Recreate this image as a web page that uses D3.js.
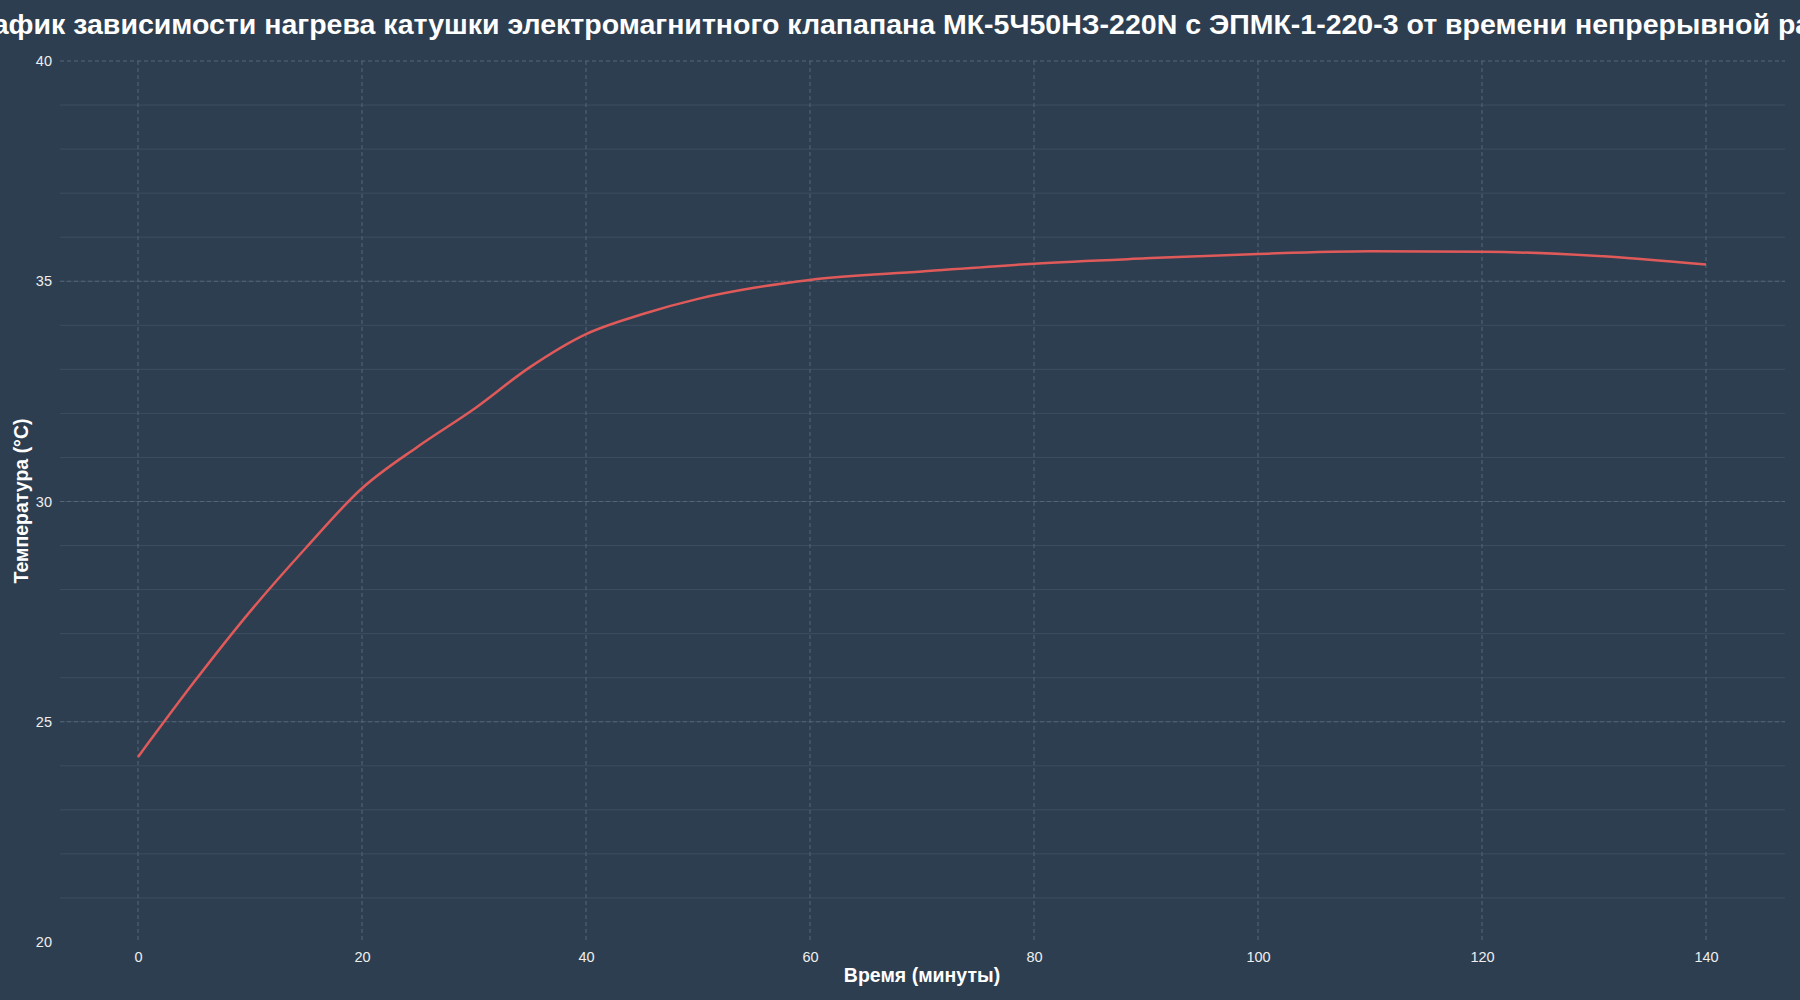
<!DOCTYPE html>
<html><head><meta charset="utf-8">
<script src="https://cdn.jsdelivr.net/npm/d3@7"></script>
<style>body{margin:0;background:#2d3e50;font-family:"Liberation Sans",Arial,sans-serif}</style>
</head><body><svg id="chart" width="1800" height="1000"></svg>
<script>
// time (minutes) vs coil temperature
var minutes = [0, 5, 10, 15, 20, 25, 30, 35, 40, 45, 50, 55, 60, 70, 80, 90, 100, 110, 120, 130, 140];
var temps = [24.2, 25.9, 27.5, 28.95, 30.3, 31.25, 32.1, 33.05, 33.8, 34.25, 34.6, 34.85, 35.03, 35.22, 35.4, 35.52, 35.62, 35.68, 35.67, 35.58, 35.38];
var xTicks = [0, 20, 40, 60, 80, 100, 120, 140];
var yTicks = [20, 25, 30, 35, 40];

var svg = d3.select('#chart');
var pLeft = 60, pRight = 1785, pTop = 61, pBottom = 942;
var x = d3.scaleLinear().domain([0, 140]).range([138, 1706]);
var y = d3.scaleLinear().domain([20, 40]).range([pBottom, pTop]);

// minor grid every degree
svg.append('g').selectAll('line').data(d3.range(21, 40))
   .enter().append('line')
   .attr('x1', pLeft).attr('x2', pRight)
   .attr('y1', y).attr('y2', y)
   .attr('stroke', '#3d4e60').attr('stroke-width', 1);

svg.append('g').selectAll('line').data(yTicks.slice(1))
   .enter().append('line')
   .attr('x1', pLeft).attr('x2', pRight)
   .attr('y1', y).attr('y2', y)
   .attr('stroke', '#56667a').attr('stroke-dasharray', '4,3');

svg.append('g').selectAll('line').data(xTicks)
   .enter().append('line')
   .attr('x1', x).attr('x2', x)
   .attr('y1', pTop).attr('y2', pBottom)
   .attr('stroke', '#56667a').attr('stroke-dasharray', '4,3');

var yAxis = svg.append('g').attr('transform', 'translate(' + pLeft + ',0)')
   .call(d3.axisLeft(y).tickValues(yTicks).tickSize(0).tickPadding(8));
var xAxis = svg.append('g').attr('transform', 'translate(0,' + pBottom + ')')
   .call(d3.axisBottom(x).tickValues(xTicks).tickSize(0).tickPadding(10));
[xAxis, yAxis].forEach(function (a) {
    a.select('.domain').remove();
    a.selectAll('text').attr('fill', '#eeeeee').style('font-size', '14.5px')
     .style('font-family', '"Liberation Sans",Arial,sans-serif');
});

var line = d3.line().x(function (d, i) { return x(minutes[i]); })
                    .y(function (d) { return y(d); })
                    .curve(d3.curveMonotoneX);
svg.append('path').datum(temps).attr('d', line)
   .attr('fill', 'none').attr('stroke', '#e05a5a').attr('stroke-width', 2.5);

svg.append('text').attr('x', 922).attr('y', 34).attr('text-anchor', 'middle')
   .attr('fill', '#ffffff').style('font-size', '28.5px').style('font-weight', 'bold')
   .text('График зависимости нагрева катушки электромагнитного клапапана МК-5Ч50НЗ-220N с ЭПМК-1-220-3 от времени непрерывной работы');
svg.append('text').attr('x', 922).attr('y', 982).attr('text-anchor', 'middle')
   .attr('fill', '#ffffff').style('font-size', '19.5px').style('font-weight', 'bold')
   .text('Время (минуты)');
svg.append('text').attr('transform', 'translate(28,501) rotate(-90)').attr('text-anchor', 'middle')
   .attr('fill', '#ffffff').style('font-size', '19.5px').style('font-weight', 'bold')
   .text('Температура (°C)');
</script></body></html>
